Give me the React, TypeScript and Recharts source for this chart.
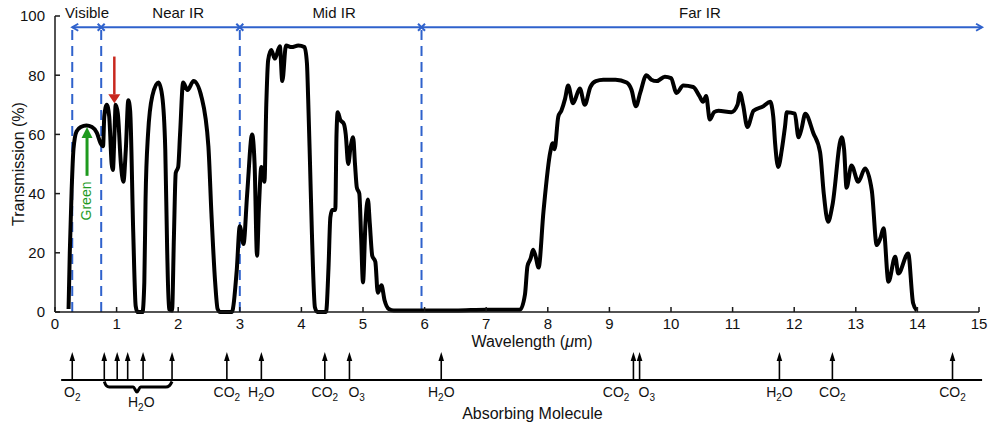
import React from 'react';
import { ComposedChart, Line, XAxis, YAxis, ReferenceLine, ReferenceDot } from 'recharts';

const FONT = '"Liberation Sans", Arial, Helvetica, sans-serif';
const BLUE = '#2f62cc';
const GREEN = '#1e9a1e';
const RED = '#c8281e';

// ---- spectrum (wavelength in µm, transmission in %) ----
const visNearWl = [0.22, 0.24, 0.27, 0.30, 0.35, 0.42, 0.51, 0.60, 0.68, 0.74, 0.78, 0.80, 0.84, 0.88, 0.92, 0.94, 0.965, 0.985, 1.02, 1.07, 1.11, 1.15, 1.19, 1.22, 1.27, 1.31, 1.34, 1.42, 1.45, 1.47, 1.51, 1.58, 1.68, 1.74, 1.79, 1.82, 1.85, 1.90, 1.93, 1.96, 2.00, 2.03, 2.08, 2.15, 2.25, 2.38, 2.49, 2.54, 2.60, 2.64, 2.68, 2.87];
const visNearT = [1, 20, 41, 55, 61, 62.5, 63, 62.5, 60.5, 57, 56, 66, 70, 66, 50, 48, 60, 70, 67, 50, 44, 55, 71.5, 68, 27, 2, 0, 0, 10, 38, 60, 73, 77.5, 73, 55, 22, 1, 0.5, 25, 47, 49, 60, 77.5, 75, 78, 72.5, 56, 33, 10, 1, 0, 0];
const midWl = [2.95, 3.00, 3.06, 3.12, 3.20, 3.24, 3.28, 3.31, 3.35, 3.40, 3.43, 3.46, 3.51, 3.57, 3.65, 3.69, 3.75, 3.84, 3.95, 4.05, 4.09, 4.11, 4.14, 4.17, 4.22, 4.26, 4.40, 4.44, 4.47, 4.50, 4.55, 4.57, 4.59, 4.63, 4.69, 4.72, 4.76, 4.80, 4.84, 4.87, 4.90, 4.94, 4.97, 5.00, 5.04, 5.08, 5.11, 5.15, 5.20, 5.24, 5.30, 5.35, 5.42, 5.50, 6.50, 7.00, 7.55];
const midT = [14, 29, 23, 40, 60, 50, 19, 35, 49, 44, 70, 85, 88.5, 85.6, 89.8, 78, 90, 89.5, 90, 89.5, 84, 72, 50, 27, 1.5, 0, 0, 15, 32, 34.5, 34.5, 60, 67.5, 65, 63.5, 60, 50, 56, 59, 50, 42, 40, 25, 10, 30, 38, 30, 19, 17, 6.5, 9, 4, 1, 0.5, 0.5, 0.8, 0.8];
const farWl = [7.63, 7.67, 7.72, 7.76, 7.80, 7.85, 7.93, 8.04, 8.08, 8.11, 8.17, 8.22, 8.28, 8.33, 8.41, 8.52, 8.60, 8.69, 8.78, 8.90, 9.10, 9.28, 9.36, 9.43, 9.50, 9.60, 9.68, 9.77, 9.90, 10.00, 10.09, 10.20, 10.36, 10.46, 10.52, 10.57, 10.63, 10.70, 10.77, 10.98, 11.08, 11.12, 11.17, 11.24, 11.34, 11.50, 11.61, 11.66, 11.69, 11.74, 11.80, 11.85, 11.88, 12.01, 12.07, 12.12, 12.18, 12.31, 12.42, 12.48, 12.55, 12.62, 12.77, 12.81, 12.85, 12.93, 13.04, 13.15, 13.26, 13.34, 13.40, 13.45, 13.53, 13.64, 13.69, 13.85, 13.93, 13.99];
const farT = [6, 15.5, 18, 21, 19, 15, 34, 54, 57, 55, 66, 68, 72, 76.5, 70.5, 75.5, 70, 76, 78, 78.5, 78.5, 77.5, 75, 69.5, 74, 80, 78.5, 78, 79.5, 79, 74, 76.5, 76, 73, 71, 73, 65, 67.5, 68, 67.5, 70, 74, 70, 62.5, 68, 69.5, 71, 66, 57, 49, 55, 62.5, 67.5, 67, 59, 62, 67, 60.5, 54, 40, 30.5, 36, 59, 55, 42, 49.5, 44, 48.5, 41, 22.6, 25, 28.3, 10.2, 18.7, 13, 19.8, 3, 0.5];

const xTicks = [0, 1, 2, 3, 4, 5, 6, 7, 8, 9, 10, 11, 12, 13, 14, 15];
const yTicks = [0, 20, 40, 60, 80, 100];

// ---- spectral regions ----
const regionNames = ['Visible', 'Near IR', 'Mid IR', 'Far IR'];
const regionLabelX = [0.52, 2.0, 4.53, 10.47];
const regionBoundaries = [0.28, 0.75, 3, 5.95];
const regionMarkers = [0.75, 3, 5.95];
const bandArrowStart = 0.28;
const bandArrowEnd = 15.05;
const bandArrowLevel = 96.2;
const bandLabelLevel = 101;

// ---- highlight arrows ----
const greenArrowX = 0.52;
const greenArrowFrom = 46;
const greenArrowTo = 62.5;
const greenLabelPos = [0.5, 37.5];
const redArrowX = 0.963;
const redArrowFrom = 86.3;
const redArrowTo = 70.5;

// ---- absorbing molecules ----
const moleculeWl = [0.28, 0.80, 1.01, 1.18, 1.43, 1.90, 2.79, 3.35, 4.38, 4.78, 6.27, 9.39, 9.49, 11.76, 12.62, 14.57];
const moleculeNames = ['O2', '', '', '', '', '', 'CO2', 'H2O', 'CO2', 'O3', 'H2O', 'CO2', 'O3', 'H2O', 'CO2', 'CO2'];
const moleculeAnchor: Record<number, string> = { 9: 'start', 11: 'end', 12: 'start' };
const braceWl = [0.80, 0.83, 0.88, 1.27, 1.33, 1.39, 1.80, 1.86, 1.90];
const braceLevel = [-1.5, -5.5, -7, -7, -12, -7, -7, -5.5, -1.5];
const braceName = 'H2O';
const braceLabelPos = [1.40, -22];

const spectrum = [
  ...visNearWl.map((x, i) => ({ x, t: visNearT[i] })),
  ...midWl.map((x, i) => ({ x, t: midT[i] })),
  ...farWl.map((x, i) => ({ x, t: farT[i] })),
];
const braceData = braceWl.map((x, i) => ({ x, y: braceLevel[i] }));

function chem(label: string) {
  const parts = label.match(/[A-Za-z]+|\d+/g) || [];
  let shifted = false;
  return parts.map((p, i) => {
    if (/\d/.test(p)) {
      shifted = true;
      return (
        <tspan key={i} dy={4} fontSize={10}>
          {p}
        </tspan>
      );
    }
    const dy = shifted ? -4 : 0;
    shifted = false;
    return (
      <tspan key={i} dy={dy}>
        {p}
      </tspan>
    );
  });
}

const XTick = (p: any) => {
  const { x, y, payload } = p;
  const axisY = y - 12;
  return (
    <g>
      <line x1={x} x2={x} y1={axisY} y2={axisY - 5} stroke="#1a1a1a" strokeWidth={1.5} />
      <text x={x} y={y} dy="0.36em" textAnchor="middle" fontSize={15} fill="#111" fontFamily={FONT}>
        {payload.value}
      </text>
    </g>
  );
};

const YTick = (p: any) => {
  const { x, y, payload } = p;
  const axisX = x + 10;
  return (
    <g>
      <line x1={axisX} x2={axisX + 5} y1={y} y2={y} stroke="#1a1a1a" strokeWidth={1.5} />
      <text x={x} y={y} dy="0.36em" textAnchor="end" fontSize={15} fill="#111" fontFamily={FONT}>
        {payload.value}
      </text>
    </g>
  );
};

const XLabel = (p: any) => {
  const vb = p && p.viewBox ? p.viewBox : { x: 55, y: 312, width: 924, height: 38 };
  return (
    <text x={vb.x + vb.width / 2 + 15} y={vb.y + 35} textAnchor="middle" fontSize={16} fill="#111" fontFamily={FONT}>
      Wavelength (<tspan fontStyle="italic">μ</tspan>m)
    </text>
  );
};

const YLabel = (p: any) => {
  const vb = p && p.viewBox ? p.viewBox : { x: 0, y: 16, width: 55, height: 296 };
  const cx = vb.x + 18;
  const cy = vb.y + vb.height / 2;
  return (
    <text
      transform={`translate(${cx},${cy}) rotate(-90)`}
      textAnchor="middle"
      dy="0.36em"
      fontSize={16}
      fill="#111"
      fontFamily={FONT}
    >
      Transmission (%)
    </text>
  );
};

const ChevronLeft = (p: any) => (
  <path d={`M${p.cx + 6},${p.cy - 3.5} L${p.cx},${p.cy} L${p.cx + 6},${p.cy + 3.5}`} fill="none" stroke={BLUE} strokeWidth={2} />
);
const ChevronRight = (p: any) => (
  <path d={`M${p.cx - 6},${p.cy - 3.5} L${p.cx},${p.cy} L${p.cx - 6},${p.cy + 3.5}`} fill="none" stroke={BLUE} strokeWidth={2} />
);
const CrossMark = (p: any) => (
  <path
    d={`M${p.cx - 3.5},${p.cy - 3.5} L${p.cx + 3.5},${p.cy + 3.5} M${p.cx - 3.5},${p.cy + 3.5} L${p.cx + 3.5},${p.cy - 3.5}`}
    stroke={BLUE}
    strokeWidth={2}
  />
);

const HeadUp = (color: string, half: number, len: number) => (p: any) => (
  <polygon points={`${p.cx},${p.cy} ${p.cx - half},${p.cy + len} ${p.cx + half},${p.cy + len}`} fill={color} />
);
const HeadDown = (color: string, half: number, len: number) => (p: any) => (
  <polygon points={`${p.cx},${p.cy} ${p.cx - half},${p.cy - len} ${p.cx + half},${p.cy - len}`} fill={color} />
);

const MoleculeMark = ({ cx, cy, label, anchor }: any) => {
  const dx = anchor === 'start' ? -1 : anchor === 'end' ? -4 : 0;
  return (
    <g>
      <line x1={cx} y1={cy} x2={cx} y2={cy - 20} stroke="#000" strokeWidth={1.6} />
      <polygon points={`${cx},${cy - 28} ${cx - 2.8},${cy - 19} ${cx + 2.8},${cy - 19}`} fill="#000" />
      {label ? (
        <text x={cx + dx} y={cy + 17} textAnchor={anchor || 'middle'} fontSize={14} fill="#111" fontFamily={FONT}>
          {chem(label)}
        </text>
      ) : null}
    </g>
  );
};

export default function App() {
  return (
    <div style={{ position: 'absolute', left: 0, top: 0, width: 1002, height: 428, background: '#fff' }}>
      <div style={{ position: 'absolute', left: 0, top: 0 }}>
        <ComposedChart width={1002} height={350} margin={{ top: 16, right: 23, left: 0, bottom: 0 }}>
          <XAxis
            type="number"
            dataKey="x"
            domain={[0, 15]}
            ticks={xTicks}
            interval={0}
            tickSize={0}
            tickMargin={12}
            tickLine={false}
            tick={(p: any) => <XTick {...p} />}
            axisLine={{ stroke: '#1a1a1a', strokeWidth: 1.5 }}
            height={38}
            label={(p: any) => <XLabel {...p} />}
          />
          <YAxis
            type="number"
            domain={[0, 100]}
            ticks={yTicks}
            interval={0}
            width={55}
            tickSize={0}
            tickMargin={10}
            tickLine={false}
            tick={(p: any) => <YTick {...p} />}
            axisLine={{ stroke: '#1a1a1a', strokeWidth: 1.5 }}
            label={(p: any) => <YLabel {...p} />}
          />
          {regionBoundaries.map((bx) => (
            <ReferenceLine
              key={`b${bx}`}
              segment={[{ x: bx, y: 0 }, { x: bx, y: bandArrowLevel }]}
              stroke={BLUE}
              strokeWidth={2}
              strokeDasharray="10 6"
              ifOverflow="visible"
            />
          ))}
          <ReferenceLine
            segment={[{ x: bandArrowStart, y: bandArrowLevel }, { x: bandArrowEnd, y: bandArrowLevel }]}
            stroke={BLUE}
            strokeWidth={2}
            ifOverflow="visible"
          />
          <ReferenceDot x={bandArrowStart} y={bandArrowLevel} r={0} ifOverflow="visible" shape={ChevronLeft} />
          <ReferenceDot x={bandArrowEnd} y={bandArrowLevel} r={0} ifOverflow="visible" shape={ChevronRight} />
          {regionMarkers.map((mx) => (
            <ReferenceDot key={`m${mx}`} x={mx} y={bandArrowLevel} r={0} ifOverflow="visible" shape={CrossMark} />
          ))}
          {regionNames.map((name, i) => (
            <ReferenceDot
              key={name}
              x={regionLabelX[i]}
              y={bandLabelLevel}
              r={0}
              ifOverflow="visible"
              shape={(p: any) => (
                <text x={p.cx} y={p.cy} dy="0.36em" textAnchor="middle" fontSize={15} fill="#111" fontFamily={FONT}>
                  {name}
                </text>
              )}
            />
          ))}
          <ReferenceLine
            segment={[{ x: greenArrowX, y: greenArrowFrom }, { x: greenArrowX, y: greenArrowTo - 3 }]}
            stroke={GREEN}
            strokeWidth={3}
            ifOverflow="visible"
          />
          <ReferenceDot x={greenArrowX} y={greenArrowTo} r={0} ifOverflow="visible" shape={HeadUp(GREEN, 5.5, 11)} />
          <ReferenceDot
            x={greenLabelPos[0]}
            y={greenLabelPos[1]}
            r={0}
            ifOverflow="visible"
            shape={(p: any) => (
              <text
                transform={`translate(${p.cx},${p.cy}) rotate(-90)`}
                dy="0.36em"
                textAnchor="middle"
                fontSize={14}
                fill={GREEN}
                fontFamily={FONT}
              >
                Green
              </text>
            )}
          />
          <ReferenceLine
            segment={[{ x: redArrowX, y: redArrowFrom }, { x: redArrowX, y: redArrowTo + 3 }]}
            stroke={RED}
            strokeWidth={2.5}
            ifOverflow="visible"
          />
          <ReferenceDot x={redArrowX} y={redArrowTo} r={0} ifOverflow="visible" shape={HeadDown(RED, 6, 9)} />
          <Line
            data={spectrum}
            dataKey="t"
            type="monotone"
            stroke="#000"
            strokeWidth={4}
            strokeLinejoin="round"
            dot={false}
            activeDot={false}
            isAnimationActive={false}
          />
        </ComposedChart>
      </div>
      <div style={{ position: 'absolute', left: 0, top: 350 }}>
        <ComposedChart width={1002} height={78} margin={{ top: 0, right: 23, left: 55, bottom: 0 }}>
          <XAxis type="number" dataKey="x" domain={[0, 15]} hide />
          <YAxis type="number" dataKey="y" domain={[-48, 30]} hide />
          <ReferenceLine
            segment={[{ x: 0.1, y: 0 }, { x: 15.05, y: 0 }]}
            stroke="#000"
            strokeWidth={2}
            ifOverflow="visible"
          />
          {moleculeWl.map((mx, i) => (
            <ReferenceDot
              key={`mol${i}`}
              x={mx}
              y={0}
              r={0}
              ifOverflow="visible"
              shape={(p: any) => <MoleculeMark cx={p.cx} cy={p.cy} label={moleculeNames[i]} anchor={moleculeAnchor[i]} />}
            />
          ))}
          <ReferenceDot
            x={braceLabelPos[0]}
            y={braceLabelPos[1]}
            r={0}
            ifOverflow="visible"
            shape={(p: any) => (
              <text x={p.cx} y={p.cy + 5} textAnchor="middle" fontSize={14} fill="#111" fontFamily={FONT}>
                {chem(braceName)}
              </text>
            )}
          />
          <ReferenceDot
            x={7.75}
            y={-33}
            r={0}
            ifOverflow="visible"
            shape={(p: any) => (
              <text x={p.cx} y={p.cy + 6} textAnchor="middle" fontSize={16} fill="#111" fontFamily={FONT}>
                Absorbing Molecule
              </text>
            )}
          />
          <Line
            data={braceData}
            dataKey="y"
            type="monotone"
            stroke="#000"
            strokeWidth={3}
            dot={false}
            activeDot={false}
            isAnimationActive={false}
          />
        </ComposedChart>
      </div>
    </div>
  );
}
